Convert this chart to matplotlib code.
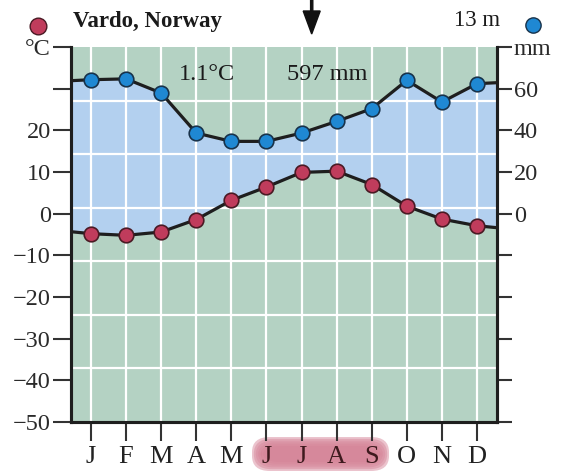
import numpy as np
import matplotlib
matplotlib.use("Agg")
import matplotlib.pyplot as plt
from matplotlib.lines import Line2D
from matplotlib.patches import FancyBboxPatch, FancyArrow

# ---- data ----
months = ["J", "F", "M", "A", "M", "J", "J", "A", "S", "O", "N", "D"]
temp_c = [-4.8, -5.2, -4.4, -1.4, 3.2, 6.4, 9.9, 10.2, 7.0, 1.8, -1.3, -2.9]
precip_mm = [64.3, 64.7, 57.9, 38.7, 34.7, 34.7, 38.7, 44.3, 50.4, 64.0, 53.6, 62.4]
station = "Vardo, Norway"
elevation = "13 m"
mean_temp_label = "1.1°C"
total_precip_label = "597 mm"
left_ticks = [-50, -40, -30, -20, -10, 0, 10, 20, 30, 40]
left_labels = ["\u221250", "\u221240", "\u221230", "\u221220", "\u221210", "0", "10", "20", "", "°C"]
right_ticks = [-100, -80, -60, -40, -20, 0, 20, 40, 60, 80]
right_labels = ["", "", "", "", "", "0", "20", "40", "60", "mm"]
highlight_months = [5, 6, 7, 8]
MM_PER_C = 2.0

plt.rcParams["font.family"] = ["Liberation Serif", "DejaVu Serif"]

W, H = 562, 471
fig = plt.figure(figsize=(W / 100, H / 100), dpi=100)
ax = fig.add_axes([71 / W, 1 - 422 / H, (497 - 71) / W, (422 - 47) / H])
ax2 = ax.twinx()

GREEN = "#b4d2c3"
BLUE_FILL = "#b3d0ef"
DARK = "#1e1e1e"

# twin (mm) axis drawn below temperature axis
ax2.set_zorder(1)
ax.set_zorder(2)
ax.patch.set_visible(False)
ax2.patch.set_visible(True)
ax2.patch.set_facecolor(GREEN)

xlim = (-0.57, 11.57)
ax.set_xlim(*xlim)
ax.set_ylim(-50, 40)
ax2.set_ylim(-100, 80)

x = np.arange(12)
# lines run out to the frame, easing slightly toward the wrap-around month
xp = np.concatenate([[-2.3], x, [13.3]])
xe = np.concatenate([[xlim[0]], x, [xlim[1]]])
tp = np.interp(xe, xp, np.concatenate([[temp_c[-1]], temp_c, [temp_c[0]]]))
pp = np.interp(xe, xp, np.concatenate([[precip_mm[-1]], precip_mm, [precip_mm[0]]]))

# fill between curves (on mm axis)
ax2.fill_between(xe, tp * MM_PER_C, pp, color=BLUE_FILL, lw=0, zorder=1)

# grid: vertical at months, horizontal at 7 equal divisions
for xi in x:
    ax2.axvline(xi, color="white", lw=1.6, zorder=1.5)
for yi in np.linspace(-100, 80, 8)[1:-1]:
    ax2.axhline(yi, color="white", lw=1.6, zorder=1.5)

# precipitation line
ax2.plot(xe, pp, color=DARK, lw=2.3, zorder=3, solid_capstyle="butt")
ax2.plot(x, precip_mm, "o", ms=10.5, mfc="#1f88d3", mec="#18324a", mew=1.2, zorder=4)

# temperature line
ax.plot(xe, tp, color=DARK, lw=2.3, zorder=3, solid_capstyle="butt")
ax.plot(x, temp_c, "o", ms=10.5, mfc="#c03c5c", mec="#4a1a24", mew=1.2, zorder=4)
ax.set_xlim(*xlim)

# spines
for a in (ax, ax2):
    a.spines["top"].set_visible(False)
    for s in ("left", "right", "bottom"):
        a.spines[s].set_linewidth(2.2)
        a.spines[s].set_color(DARK)

ax.set_yticks(left_ticks)
ax.set_yticklabels(left_labels)
ax2.set_yticks(right_ticks)
ax2.set_yticklabels(right_labels)
ax.set_xticks(x)
ax.set_xticklabels(months)
ax.tick_params(axis="y", length=13, width=1.5, color="#333333", pad=1.5, labelsize=17.5, labelcolor="#2a2a2a")
ax2.tick_params(axis="y", length=11, width=1.5, color="#333333", pad=1, labelsize=17.5, labelcolor="#2a2a2a")
ax.tick_params(axis="x", length=14, width=1.5, color="#333333", pad=3, labelsize=19, labelcolor="#222222")
for i, lab in enumerate(ax.get_xticklabels()):
    if i in highlight_months:
        lab.set_color("#3e1a1e")

# pink highlight behind J J A S (soft pill)
x0, x1 = 252 / W, 389 / W
y0, y1 = 1 - 471 / H, 1 - 437 / H
for k, al in enumerate([0.10, 0.12, 0.16, 0.22, 0.32, 0.4]):
    d = (5 - k) * 1.8
    box = FancyBboxPatch((x0 + d / W, y0 + d / H), (x1 - x0) - 2 * d / W, (y1 - y0) - 2 * d / H,
                         boxstyle="round,pad=0,rounding_size=0.032", transform=fig.transFigure,
                         facecolor="#cd6a82", edgecolor="none", alpha=al, zorder=0)
    fig.add_artist(box)

# header texts
fig.text(73 / W, 1 - 21 / H, station, fontsize=16.5, fontweight="bold", ha="left", va="center", color="#1a1a1a")
fig.text(500 / W, 1 - 21 / H, elevation, fontsize=16.5, ha="right", va="center", color="#1a1a1a")
fig.add_artist(Line2D([38 / W], [1 - 26 / H], marker="o", ms=12, mfc="#c03c5c", mec="#4a1a24", mew=1.0,
                      transform=fig.transFigure))
fig.add_artist(Line2D([533 / W], [1 - 25 / H], marker="o", ms=11, mfc="#1f88d3", mec="#18324a", mew=1.0,
                      transform=fig.transFigure))
ax.text(207 / W, 1 - 75 / H, mean_temp_label, transform=fig.transFigure, fontsize=17.5, ha="center", va="center",
        color="#1a1a1a", zorder=5)
ax.text(327 / W, 1 - 75 / H, total_precip_label, transform=fig.transFigure, fontsize=17.5, ha="center", va="center",
        color="#1a1a1a", zorder=5)

# arrow at top
arr = FancyArrow(3.117, 4.71, 0, -0.34, width=0.022, head_width=0.17, head_length=0.23,
                 length_includes_head=True, color="#111111", transform=fig.dpi_scale_trans)
fig.add_artist(arr)

fig.savefig("out.png", dpi=100)
